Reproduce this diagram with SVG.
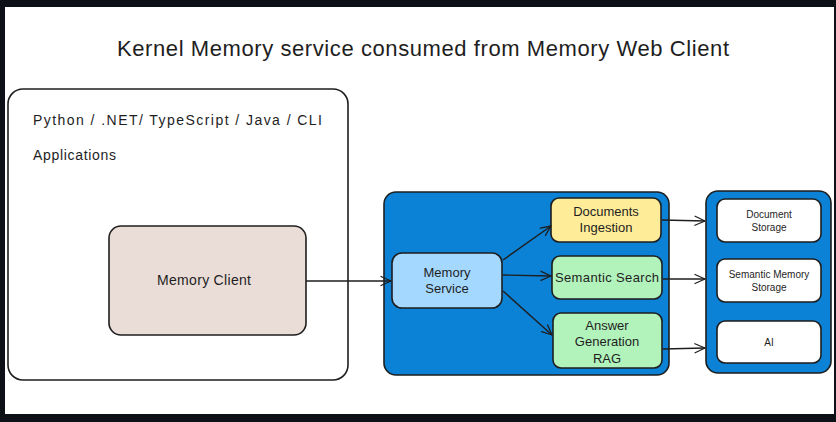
<svg xmlns="http://www.w3.org/2000/svg" width="836" height="422" viewBox="0 0 836 422">
  <defs>
    <marker id="arr" viewBox="0 0 12 12" refX="11" refY="6" markerWidth="12" markerHeight="12" markerUnits="userSpaceOnUse" orient="auto">
      <path d="M1,1.5 L11,6 L1,10.5" fill="none" stroke="#1e1e1e" stroke-width="1.3" stroke-linecap="round" stroke-linejoin="round"/>
    </marker>
  </defs>
  <style>
    .frame { fill: #0d1117; }
    .t { font-family: "Liberation Sans", Arial, sans-serif; fill: #1e1e1e; }
    .box { stroke: #1e1e1e; stroke-width: 1.6; }
    .conn { stroke: #1e1e1e; stroke-width: 1.4; fill: none; marker-end: url(#arr); }
  </style>
  <rect class="frame" x="0" y="0" width="836" height="422"/>
  <rect x="5" y="7" width="829" height="407" fill="#ffffff"/>

  <text class="t" x="423" y="56" font-size="22" text-anchor="middle" textLength="612">Kernel Memory service consumed from Memory Web Client</text>

  <g id="applications">
    <rect class="box" x="8" y="89" width="340" height="291" rx="15" fill="#ffffff"/>
    <text class="t" x="33" y="125" font-size="14" textLength="289">Python / .NET/ TypeScript / Java / CLI</text>
    <text class="t" x="33" y="160" font-size="14" textLength="83">Applications</text>
  </g>

  <g id="memory-client">
    <rect class="box" x="109" y="226" width="197" height="109" rx="12" fill="#eaddd7"/>
    <text class="t" x="204" y="285" font-size="14" text-anchor="middle" textLength="94">Memory Client</text>
  </g>

  <g id="kernel-memory">
    <rect class="box" x="384" y="192" width="285" height="183" rx="12" fill="#0b82d6"/>
  </g>

  <g id="memory-service">
    <rect class="box" x="392" y="253" width="110" height="55" rx="10" fill="#a5d8ff"/>
    <text class="t" x="447" y="277" font-size="13" text-anchor="middle">Memory</text>
    <text class="t" x="447" y="293" font-size="13" text-anchor="middle">Service</text>
  </g>

  <g id="documents-ingestion">
    <rect class="box" x="551" y="198" width="110" height="44" rx="8" fill="#ffec99"/>
    <text class="t" x="606" y="216" font-size="13" text-anchor="middle">Documents</text>
    <text class="t" x="606" y="232" font-size="13" text-anchor="middle">Ingestion</text>
  </g>

  <g id="semantic-search">
    <rect class="box" x="552" y="256" width="110" height="43" rx="8" fill="#b2f2bb"/>
    <text class="t" x="607" y="282" font-size="13" text-anchor="middle" textLength="104">Semantic Search</text>
  </g>

  <g id="answer-generation">
    <rect class="box" x="553" y="313" width="109" height="55" rx="8" fill="#b2f2bb"/>
    <text class="t" x="607" y="330" font-size="13" text-anchor="middle">Answer</text>
    <text class="t" x="607" y="346" font-size="13" text-anchor="middle">Generation</text>
    <text class="t" x="607" y="363" font-size="13" text-anchor="middle">RAG</text>
  </g>

  <g id="storage">
    <rect class="box" x="706" y="191" width="125" height="182" rx="12" fill="#0b82d6"/>
  </g>

  <g id="document-storage">
    <rect class="box" x="717" y="199" width="104" height="43" rx="8" fill="#ffffff"/>
    <text class="t" x="769" y="218" font-size="10" text-anchor="middle">Document</text>
    <text class="t" x="769" y="231" font-size="10" text-anchor="middle">Storage</text>
  </g>

  <g id="semantic-memory-storage">
    <rect class="box" x="717" y="259" width="104" height="43" rx="8" fill="#ffffff"/>
    <text class="t" x="769" y="278" font-size="10" text-anchor="middle">Semantic Memory</text>
    <text class="t" x="769" y="291" font-size="10" text-anchor="middle">Storage</text>
  </g>

  <g id="ai">
    <rect class="box" x="717" y="321" width="104" height="42" rx="8" fill="#ffffff"/>
    <text class="t" x="769" y="346" font-size="10" text-anchor="middle">AI</text>
  </g>

  <g id="connectors">
    <line class="conn" x1="306" y1="281" x2="391" y2="281"/>
    <line class="conn" x1="503" y1="260" x2="551" y2="226"/>
    <line class="conn" x1="503" y1="275" x2="551" y2="276"/>
    <line class="conn" x1="503" y1="291" x2="552" y2="335"/>
    <line class="conn" x1="662" y1="220" x2="705" y2="221"/>
    <line class="conn" x1="663" y1="279" x2="705" y2="279"/>
    <line class="conn" x1="663" y1="349" x2="705" y2="348"/>
  </g>
</svg>
